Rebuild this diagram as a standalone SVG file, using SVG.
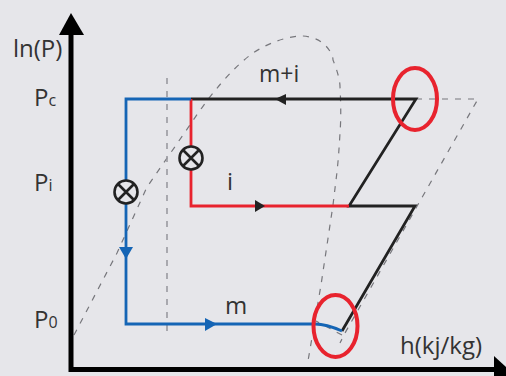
<svg xmlns="http://www.w3.org/2000/svg" width="506" height="376" viewBox="0 0 506 376">
<style>
text{font-family:"Open Sans","Noto Sans",sans-serif;fill:#333;font-size:24px}
.sub{font-size:16px}
.dash{fill:none;stroke:#77777c;stroke-width:1.2;stroke-dasharray:6 7}
.line{fill:none;stroke-width:2.800}
.blue{stroke:#1565b5}.red{stroke:#e8232e}.black{stroke:#222}
.valve circle{fill:#e6e6ea;stroke:#222;stroke-width:2.600}
.valve path{fill:none;stroke:#222;stroke-width:2.600}
.ring{fill:none;stroke:#e8232e;stroke-width:4}
</style>
<rect width="506" height="376" fill="#e6e6ea"/>
<g id="connectors">
<path class="dash" d="M74 335L117 253L147 187L192 122C210 95 232 68 253 53C270 42 288 36 303 36C314 37 321 41 325 45C330 50 333 56 333 60C337 70 340 80 340 87C341 105 341 120 340 133C339 150 338 165 336 180L333 205L321 285L308 361"/>
<path class="dash" d="M416 99H478L345 333L340 343"/>
<path class="dash" d="M342 335L316 321"/>
<path class="dash" d="M167 78V338" style="stroke:#9a9aa0;stroke-width:1.600"/>
<path class="line black" d="M191 99H416L349 206H415L342 331"/>
<path class="line red" d="M191 99V206H349"/>
<path class="line blue" d="M191 99H126V324H315C325 324 333 327 342 331"/>
<polygon points="275,99 286,94 286,105" fill="#222"/>
<polygon points="265,206 255,200 255,212" fill="#222"/>
<polygon points="126,259 119,247 133,247" fill="#1565b5"/>
<polygon points="217,324 205,318 205,331" fill="#1565b5"/>
<path d="M71 30V369.500H495" fill="none" stroke="#000" stroke-width="5"/>
<polygon points="71,13 59,35 84,35" fill="#000"/>
<polygon points="506,367 494,356 494,376 506,376" fill="#000"/>
</g>
<g id="valve-i" class="valve"><circle cx="191" cy="158" r="11.500"/><path d="M183 150L199 166M199 150L183 166"/></g>
<g id="valve-m" class="valve"><circle cx="126" cy="192" r="11.500"/><path d="M118 184L134 200M134 184L118 200"/></g>
<g id="ring-top"><ellipse class="ring" cx="415" cy="99" rx="22" ry="31"/></g>
<g id="ring-bottom"><ellipse class="ring" cx="335.500" cy="326" rx="22" ry="31"/></g>
<g id="labels">
<text x="13" y="57">ln(P)</text>
<text x="34" y="106">P<tspan class="sub">c</tspan></text>
<text x="34" y="191">P<tspan class="sub">i</tspan></text>
<text x="34" y="328">P<tspan class="sub">0</tspan></text>
<text x="259" y="82" style="font-size:23px">m+i</text>
<text x="227" y="190">i</text>
<text x="225" y="314">m</text>
<text x="400" y="354">h(kj/kg)</text>
</g>
</svg>
